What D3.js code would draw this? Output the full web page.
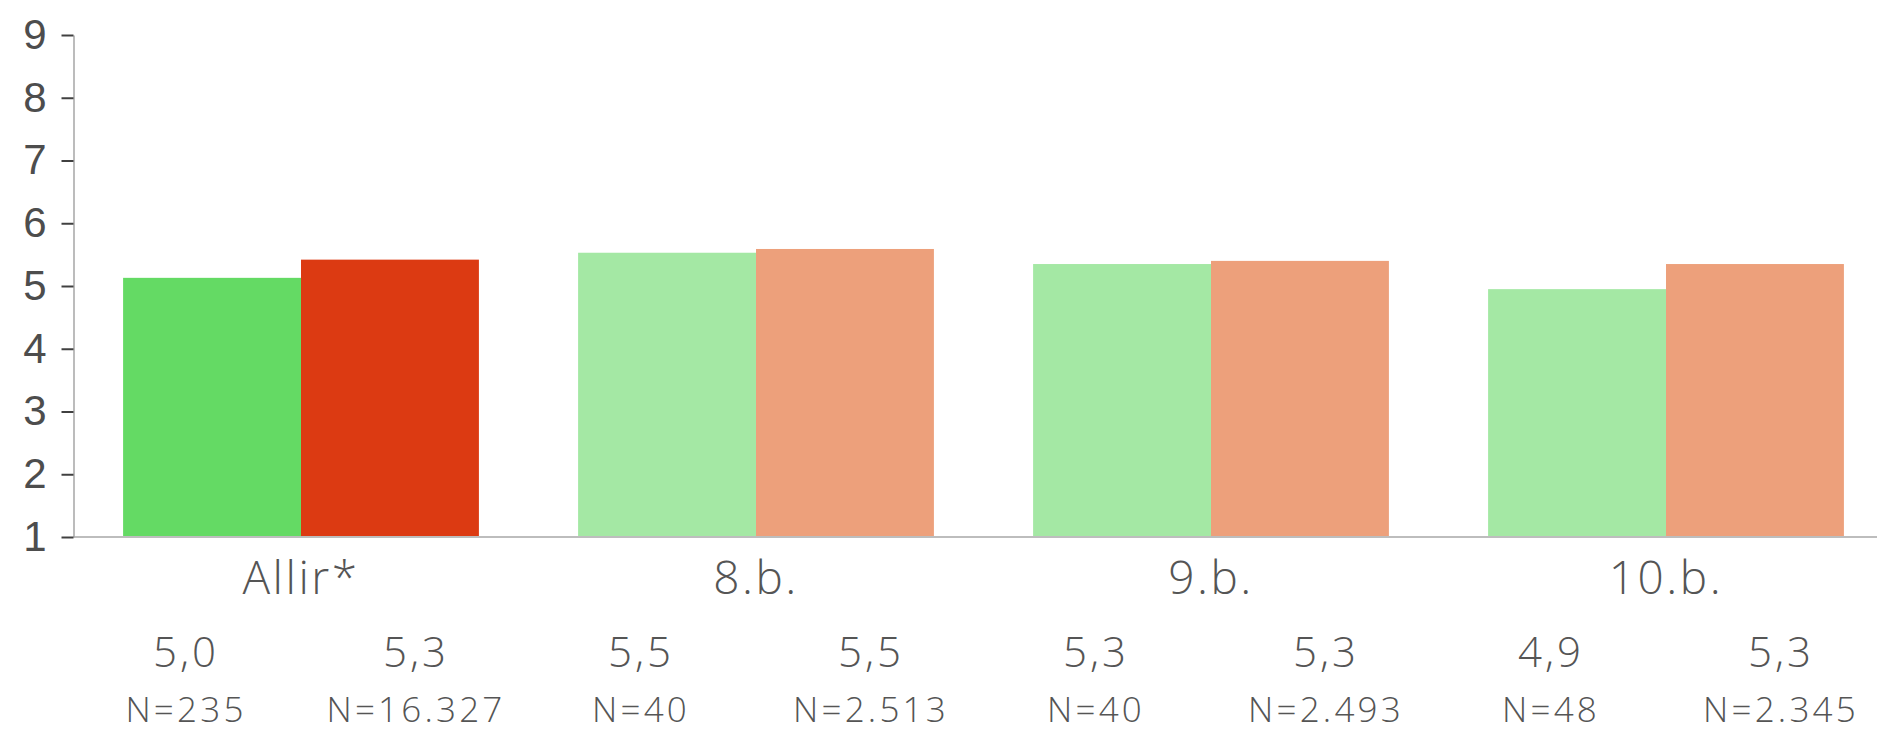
<!DOCTYPE html>
<html>
<head>
<meta charset="utf-8">
<script src="https://cdn.jsdelivr.net/npm/d3@7"></script>
<style>
  html, body { margin: 0; padding: 0; background: #ffffff; }
  svg { display: block; }
</style>
</head>
<body>
<svg id="chart" width="1877" height="733"></svg>
<script>
// ---- data ----
const categories = ["Allir*", "8.b.", "9.b.", "10.b."];
const series = ["school", "national"];
const schoolValues = [5.13, 5.53, 5.35, 4.95];
const nationalValues = [5.42, 5.59, 5.40, 5.35];
const schoolLabels = ["5,0", "5,5", "5,3", "4,9"];
const nationalLabels = ["5,3", "5,5", "5,3", "5,3"];
const schoolN = ["N=235", "N=40", "N=40", "N=48"];
const nationalN = ["N=16.327", "N=2.513", "N=2.493", "N=2.345"];
const yTicks = [1, 2, 3, 4, 5, 6, 7, 8, 9];

// ---- style ----
const colors = {
  school:   ["#64da64", "#a4e8a4", "#a4e8a4", "#a4e8a4"],
  national: ["#dc3a12", "#eda07b", "#eda07b", "#eda07b"]
};
const textColor = "#555555";

const svg = d3.select("#chart");

const y = d3.scaleLinear().domain([1, 9]).range([537, 35]);
const x0 = d3.scaleBand().domain(categories).range([73.5, 1893.5])
  .paddingInner(0.218).paddingOuter(0.109);
const x1 = d3.scaleBand().domain(series).range([0, x0.bandwidth()]);
const xl = d3.scaleBand().domain(series).range([-230, 230]);

const rows = categories.map((c, i) => ({
  cat: c,
  items: [
    { s: "school", v: schoolValues[i], label: schoolLabels[i], n: schoolN[i], color: colors.school[i] },
    { s: "national", v: nationalValues[i], label: nationalLabels[i], n: nationalN[i], color: colors.national[i] }
  ]
}));

// bars
const g = svg.append("g");
const groups = g.selectAll("g.grp").data(rows).join("g")
  .attr("class", "grp")
  .attr("transform", d => `translate(${x0(d.cat)},0)`);
groups.selectAll("rect").data(d => d.items).join("rect")
  .attr("x", d => x1(d.s))
  .attr("width", x1.bandwidth())
  .attr("y", d => y(d.v))
  .attr("height", d => y(1) - y(d.v))
  .attr("fill", d => d.color);

// baseline
svg.append("line")
  .attr("x1", 73.5).attr("x2", 1877)
  .attr("y1", y(1)).attr("y2", y(1))
  .attr("stroke", "#bdbdbd").attr("stroke-width", 2);

// y axis
const yAxis = svg.append("g")
  .attr("transform", "translate(73.5,0)")
  .call(d3.axisLeft(y).tickValues(yTicks).tickSize(12).tickSizeOuter(0).tickPadding(15));
yAxis.select(".domain").attr("stroke", "#a6a6a6").attr("stroke-width", 1.5);
yAxis.selectAll(".tick line").attr("stroke", "#404040").attr("stroke-width", 2);
yAxis.selectAll(".tick text")
  .attr("fill", "#4d4d4d")
  .style("font-family", "'Liberation Sans', Arial, sans-serif")
  .style("font-size", "42px");

// category labels
svg.append("g").selectAll("text").data(categories).join("text")
  .attr("x", d => x0(d) + x0.bandwidth() / 2)
  .attr("y", 594)
  .attr("text-anchor", "middle")
  .attr("fill", textColor)
  .style("font-family", "'Open Sans', sans-serif")
  .style("font-weight", 300)
  .style("font-size", "46px")
  .style("letter-spacing", "2.5px")
  .text(d => d);

// value & N labels
const lab = svg.append("g").selectAll("g").data(rows).join("g")
  .attr("transform", d => `translate(${x0(d.cat) + x0.bandwidth() / 2},0)`);
lab.selectAll("text.val").data(d => d.items).join("text")
  .attr("class", "val")
  .attr("x", d => xl(d.s) + xl.bandwidth() / 2)
  .attr("y", 667)
  .attr("text-anchor", "middle")
  .attr("fill", textColor)
  .style("font-family", "'Open Sans', sans-serif")
  .style("font-weight", 300)
  .style("font-size", "42px")
  .style("letter-spacing", "3px")
  .text(d => d.label);
lab.selectAll("text.n").data(d => d.items).join("text")
  .attr("class", "n")
  .attr("x", d => xl(d.s) + xl.bandwidth() / 2)
  .attr("y", 722)
  .attr("text-anchor", "middle")
  .attr("fill", textColor)
  .style("font-family", "'Open Sans', sans-serif")
  .style("font-weight", 300)
  .style("font-size", "35px")
  .style("letter-spacing", "3.2px")
  .text(d => d.n);
</script>
</body>
</html>
